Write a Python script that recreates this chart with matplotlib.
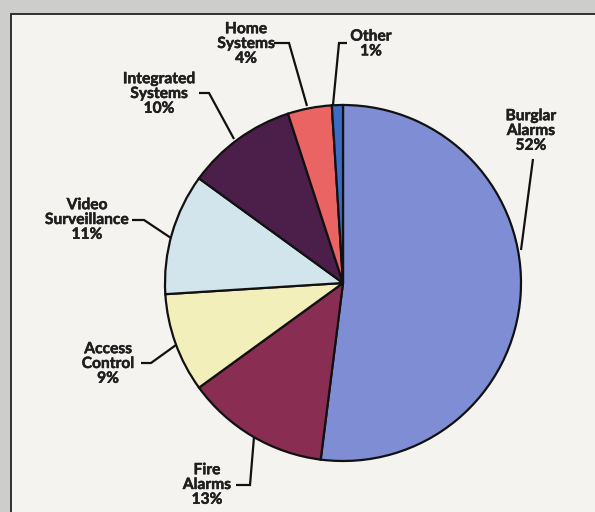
import matplotlib
matplotlib.use("Agg")
import matplotlib.pyplot as plt
import matplotlib.patheffects as pe
from matplotlib.patches import Rectangle

# доли рынка, по часовой стрелке от 12 часов
labels = ["Burglar\nAlarms", "Fire\nAlarms", "Access\nControl", "Video\nSurveillance",
          "Integrated\nSystems", "Home\nSystems", "Other"]
shares = [52, 13, 9, 11, 10, 4, 1]
colors = ["#7f8dd5", "#8a2d52", "#f3efbb", "#d2e5ec", "#4b1f49", "#ea6464", "#3d6cc4"]

# позиции подписей (пиксели картинки, y сверху) и точки выносных линий
label_xy = [(531, 131), (207, 485), (108, 364), (87, 220), (159, 94), (246, 44), (371, 44)]
leaders = [
    [(533, 159), (521, 250)],
    [(236, 485), (250, 485), (254, 437)],
    [(141, 363), (151, 363), (176, 345)],
    [(132, 220), (144, 220), (171, 238)],
    [(199, 93), (209, 93), (234, 139)],
    [(274, 43), (289, 43), (307, 106)],
    [(347, 43), (339, 43), (333, 105)],
]

W, H = 595, 512
fig = plt.figure(figsize=(W / 100, H / 100), dpi=100)
fig.patch.set_facecolor("#cdcdcb")
ax = fig.add_axes([0, 0, 1, 1])

def fy(y):
    return H - y

ax.pie(shares, colors=colors, startangle=90, counterclock=False,
       center=(343, fy(283)), radius=178,
       wedgeprops=dict(edgecolor="#111111", linewidth=1.6))

# фон "страницы" с рамкой
ax.add_patch(Rectangle((11, -20), W + 20, fy(14) + 20, facecolor="#f4f3ef",
                       edgecolor="#222222", linewidth=1.3, zorder=-5))

txt_color = "#1f1f1f"
for (lx, ly), lab, s in zip(label_xy, labels, shares):
    ax.text(lx, fy(ly), f"{lab}\n{s}%",
            ha="center", va="center", family=["Lato", "DejaVu Sans"],
            fontweight="bold", fontsize=11.2, color=txt_color, linespacing=1.07,
            path_effects=[pe.withStroke(linewidth=0.35, foreground=txt_color)])

for pts in leaders:
    ax.plot([p[0] for p in pts], [fy(p[1]) for p in pts], color="#111111",
            linewidth=1.6, solid_joinstyle="miter", solid_capstyle="butt")

ax.set_xlim(0, W)
ax.set_ylim(0, H)
ax.set_aspect("equal")
ax.axis("off")
fig.savefig("out.png", dpi=100, facecolor=fig.get_facecolor())
